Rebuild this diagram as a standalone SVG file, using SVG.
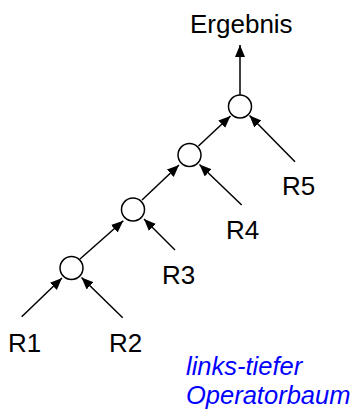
<svg xmlns="http://www.w3.org/2000/svg" width="359" height="414" viewBox="0 0 359 414">
<defs>
<marker id="ah" markerUnits="userSpaceOnUse" markerWidth="14" markerHeight="12" refX="12" refY="5" orient="auto">
<path d="M0,0 L12,5 L0,10 Z" fill="#000"/>
</marker>
<style>
.lbl{font-family:"Liberation Sans",Arial,sans-serif;font-size:26px;fill:#000}
.note{font-family:"Liberation Sans",Arial,sans-serif;font-size:25.5px;font-style:italic;fill:#0000ff}
.op{fill:#fff;stroke:#000;stroke-width:1.5}
.edge{stroke:#000;stroke-width:1.5;fill:none;marker-end:url(#ah)}
</style>
</defs>
<rect width="359" height="414" fill="#fff"/>
<g id="connectors">
<line class="edge" x1="21.7" y1="316.7" x2="62" y2="278"/>
<line class="edge" x1="122.7" y1="317.7" x2="81.5" y2="277.5"/>
<line class="edge" x1="80" y1="259" x2="123.3" y2="220.7"/>
<line class="edge" x1="175" y1="250" x2="144" y2="219"/>
<line class="edge" x1="142" y1="200" x2="179" y2="165"/>
<line class="edge" x1="241.7" y1="205" x2="199.5" y2="164.5"/>
<line class="edge" x1="198.5" y1="146" x2="230.5" y2="116"/>
<line class="edge" x1="295" y1="161.7" x2="249.5" y2="115.5"/>
<line class="edge" x1="240" y1="95" x2="240" y2="45"/>
</g>
<g id="op1"><circle class="op" cx="71.5" cy="268" r="11.5"/></g>
<g id="op2"><circle class="op" cx="133" cy="209.5" r="11.5"/></g>
<g id="op3"><circle class="op" cx="189.5" cy="155" r="11.5"/></g>
<g id="op4"><circle class="op" cx="240" cy="106.5" r="11.5"/></g>
<g id="ergebnis"><text class="lbl" x="190" y="33">Ergebnis</text></g>
<g id="R1"><text class="lbl" x="8" y="352">R1</text></g>
<g id="R2"><text class="lbl" x="109" y="352">R2</text></g>
<g id="R3"><text class="lbl" x="162" y="284">R3</text></g>
<g id="R4"><text class="lbl" x="226" y="238.5">R4</text></g>
<g id="R5"><text class="lbl" x="282" y="195">R5</text></g>
<g id="caption">
<text class="note" x="186" y="374.5">links-tiefer</text>
<text class="note" x="186" y="403.5">Operatorbaum</text>
</g>
</svg>
